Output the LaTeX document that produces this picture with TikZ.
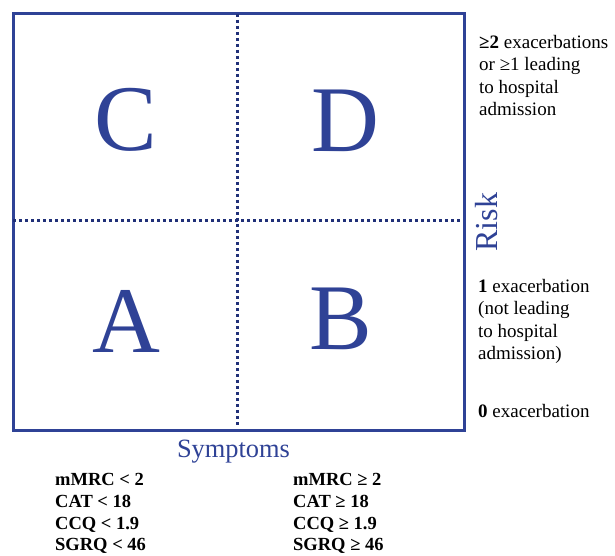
\documentclass[tikz,border=0pt]{standalone}
\usepackage{fontspec}
\setmainfont{Liberation Serif}
\definecolor{navy}{RGB}{47,66,150}
\definecolor{dotnavy}{RGB}{32,48,120}
\begin{document}
\begin{tikzpicture}[x=1pt,y=-1pt,
  quad/.style={text=navy,font=\fontsize{94}{94}\selectfont,anchor=center,inner sep=0pt},
  note/.style={anchor=north west,align=left,font=\fontsize{19}{22.5}\selectfont,inner sep=0pt},
  crit/.style={anchor=north west,align=left,font=\bfseries\fontsize{18.5}{21.8}\selectfont,inner sep=0pt},
  axis/.style={text=navy,inner sep=0pt},
  divider/.style={dotnavy,line width=2.7pt,dash pattern=on 2.7pt off 3.3pt}]
\useasboundingbox (0,0) rectangle (615,556);
\node[draw=navy,line width=3pt,minimum width=451pt,minimum height=417pt,anchor=north west,inner sep=0pt] (box) at (11.5,12) {};
\coordinate (vt) at (237.5,14);
\coordinate (vb) at (237.5,427);
\coordinate (hl) at (13,220.5);
\coordinate (hr) at (461,220.5);
\draw[divider] (vt) -- (vb);
\draw[divider] (hl) -- (hr);
\node[quad] (C) at (126,120) {C};
\node[quad] (D) at (345,121) {D};
\node[quad] (A) at (126,321) {A};
\node[quad] (B) at (341,318.5) {B};
\node[note] (n2) at (479,35) {\textbf{≥2} exacerbations\\or ≥1 leading\\to hospital\\admission};
\node[note] (n1) at (478,279) {\textbf{1} exacerbation\\(not leading\\to hospital\\admission)};
\node[note] (n0) at (478,404) {\textbf{0} exacerbation};
\node[axis,rotate=90,anchor=base,font=\fontsize{32}{32}\selectfont] (risk) at (497,222) {Risk};
\node[axis,anchor=base,font=\fontsize{26.4}{26.4}\selectfont] (symp) at (233.5,457) {Symptoms};
\node[crit] (lc) at (55,473) {mMRC < 2\\CAT < 18\\CCQ < 1.9\\SGRQ < 46};
\node[crit] (rc) at (293,473) {mMRC ≥ 2\\CAT ≥ 18\\CCQ ≥ 1.9\\SGRQ ≥ 46};
\end{tikzpicture}
\end{document}
